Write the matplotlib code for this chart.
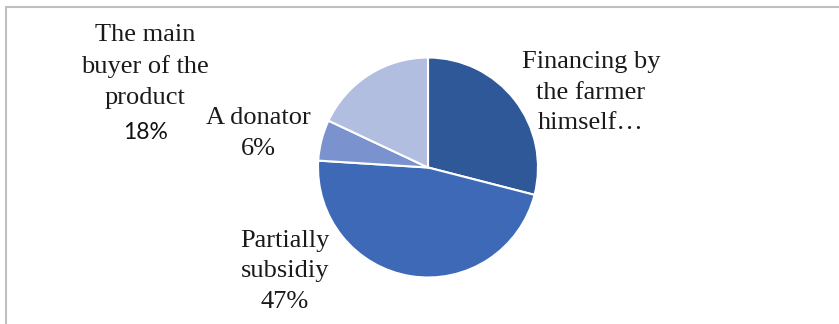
import matplotlib.pyplot as plt
from matplotlib.patches import Rectangle

# shares of each funding source (%)
sources = ["Financing by\nthe farmer\nhimself…", "Partially\nsubsidiy", "A donator", "The main\nbuyer of the\nproduct"]
shares = [29, 47, 6, 18]
slice_colors = ["#2F5898", "#3E69B7", "#7A92CE", "#B2BEDF"]

# label anchor points in pie units (radius = 1)
label_xy = [(1.48, 0.68), (-1.30, -0.945), (-1.545, 0.31), (-2.57, 0.92)]

W, H = 839, 324
R_PX = 110.0
CX, CY = 428.0, 167.5

fig = plt.figure(figsize=(W / 100, H / 100), dpi=100)
ax = fig.add_axes([0, 0, 1, 1])

ax.pie(shares, colors=slice_colors, startangle=90, counterclock=False,
       radius=1.0, wedgeprops=dict(edgecolor="white", linewidth=1.5))
ax.set_xlim(-CX / R_PX, (W - CX) / R_PX)
ax.set_ylim(-(H - CY) / R_PX, CY / R_PX)
ax.set_aspect("equal")
ax.axis("off")

serif = ["Liberation Serif", "DejaVu Serif"]
for i, (name, val) in enumerate(zip(sources, shares)):
    x, y = label_xy[i]
    txt = name if i in (0, 3) else f"{name}\n{val}%"
    ax.text(x, y, txt, ha="center", va="center", fontsize=19,
            family=serif, color="#1a1a1a", linespacing=1.5)

# value of the last slice is set in a sans face
ax.text(label_xy[3][0], label_xy[3][1] - 0.6, f"{shares[3]}%", ha="center",
        va="center", fontsize=16.5, family=["Lato", "DejaVu Sans"], color="#111111")

# chart frame
fig.patches.append(Rectangle((5.5 / W, -0.1), 1.2, 1.1 - 7.5 / H,
                             transform=fig.transFigure, fill=False,
                             edgecolor="#BFBFBF", linewidth=1.5))

fig.savefig("out.png", dpi=100)
